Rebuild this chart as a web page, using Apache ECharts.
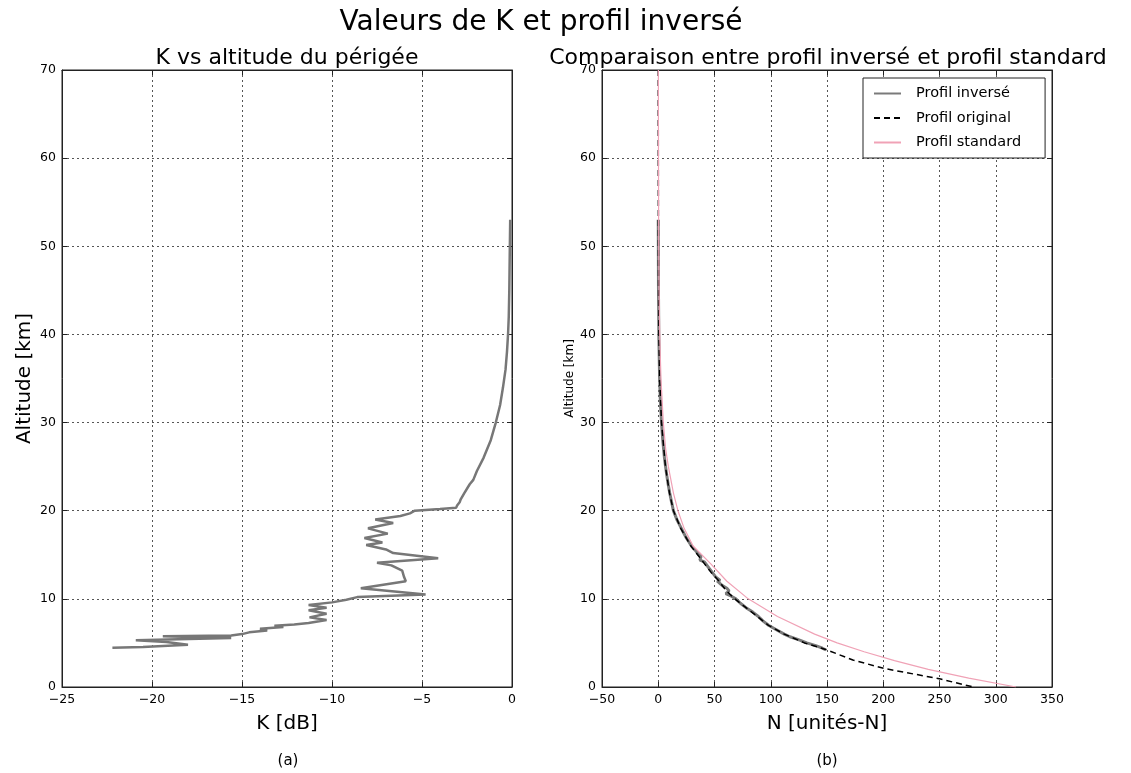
<!DOCTYPE html>
<html>
<head>
<meta charset="utf-8">
<script src="https://cdn.jsdelivr.net/npm/echarts@6/dist/echarts.min.js"></script>
<style>
html,body{margin:0;padding:0;background:#fff;}
#chart{width:1131px;height:773px;}
</style>
</head>
<body>
<div id="chart"></div>
<script>
// ---- Data ----
// Left panel: K [dB] versus perigee altitude [km]
const kAlt = [53.0, 50.0, 45.0, 42.0, 40.0, 38.0, 36.0, 34.0, 32.0, 30.0, 28.0, 26.0, 24.5, 23.5, 23.0, 22.0, 21.3, 21.0, 20.6, 20.35, 20.2, 20.0, 19.7, 19.4, 19.0, 18.6, 18.0, 17.4, 16.9, 16.4, 16.1, 15.6, 15.2, 14.6, 14.1, 13.8, 13.2, 12.5, 12.0, 11.2, 10.5, 10.2, 9.9, 9.6, 9.3, 9.0, 8.7, 8.3, 7.9, 7.6, 7.25, 7.1, 6.95, 6.8, 6.6, 6.4, 6.2, 6.0, 5.85, 5.75, 5.55, 5.3, 5.1, 4.8, 4.55, 4.45];
const kVal = [-0.10, -0.12, -0.15, -0.18, -0.22, -0.28, -0.36, -0.50, -0.66, -0.90, -1.18, -1.58, -1.95, -2.15, -2.35, -2.65, -2.85, -2.90, -3.05, -3.10, -4.0, -5.4, -5.67, -6.2, -7.6, -6.6, -8.0, -6.9, -8.2, -7.2, -8.1, -7.0, -6.6, -4.1, -7.5, -6.7, -6.1, -6.0, -5.9, -8.4, -4.8, -8.6, -9.2, -10.0, -11.3, -10.3, -11.3, -10.3, -11.25, -10.3, -11.3, -12.1, -13.2, -12.7, -14.0, -13.6, -14.6, -15.0, -15.6, -19.4, -15.6, -20.9, -19.2, -18.0, -20.5, -22.2];

// Right panel: N [N-units] versus altitude [km]
const invAlt = [53, 45, 40, 35, 32, 30, 28, 26, 25, 24, 23, 22, 21, 20, 19.5, 19, 18.5, 18, 17.5, 17, 16.5, 16, 15.5, 15, 14.8, 14.6, 14.4, 14.2, 13.5, 13, 12.5, 12.1, 12.0, 11.5, 11.2, 10.9, 10.6, 10.3, 10.0, 9.5, 9.0, 8.5, 8.0, 7.5, 7.0, 6.5, 6.0, 5.7, 5.4, 5.0, 4.7, 4.4, 4.2];
const invN = [0.0, 0.2, 0.5, 1.2, 2.0, 2.9, 4.0, 5.5, 6.5, 7.6, 8.8, 10.2, 11.8, 13.5, 15.0, 16.5, 18.5, 20.5, 22.5, 24.5, 27, 29.5, 33, 36, 38, 39, 37, 41, 45, 48, 51, 55, 52.5, 57, 61, 63, 60, 65, 69, 73, 78, 84, 89, 93, 98, 105, 112, 117, 124, 132, 140, 146, 149];

const origAlt = [70, 60, 50, 45, 40, 35, 30, 25, 22, 20, 18, 16, 15, 14, 13, 12, 11, 10, 9, 8, 7, 6, 5, 4.2, 3.06, 2.1, 0.9, 0];
const origN = [0.0, 0.05, 0.15, 0.3, 0.6, 1.3, 2.9, 6.4, 10, 13.5, 20, 29, 35, 41, 47, 54, 60, 68, 78, 88, 98, 112, 130, 150, 173, 201, 251, 280];

const stdAlt = [70, 60, 50, 45, 40, 35, 30, 27, 25, 22, 20, 18, 16, 14, 12, 10, 8, 6, 5, 4, 3, 2, 1, 0];
const stdN = [0.1, 0.2, 0.4, 0.7, 1.3, 2.4, 4.5, 6.6, 9.0, 13.5, 17.5, 23, 31, 46.5, 61, 80, 106, 139, 159, 183, 210, 240, 276, 318];

// Tick values
const kTicks = [-25, -20, -15, -10, -5, 0];
const nTicks = [-50, 0, 50, 100, 150, 200, 250, 300, 350];
const altTicks = [0, 10, 20, 30, 40, 50, 60, 70];

const seriesNames = ['Profil inversé', 'Profil original', 'Profil standard'];

// ---- Build chart ----
const FONT = 'DejaVu Sans';
const pairs = (xs, ys) => xs.map((x, i) => [x, ys[i]]);
const minusFmt = v => (v < 0 ? '\u2212' + Math.abs(v) : String(v));

const grids = [
  {left: 62, top: 70, width: 450, height: 617},
  {left: 602, top: 70, width: 450, height: 617}
];

const splitStyle = {show: true, lineStyle: {color: '#555', type: [2, 3], width: 1}};
const tickStyle = {show: true, inside: true, length: 5, lineStyle: {color: '#222', width: 1}};
const lineStyleAxis = {show: true, onZero: false, lineStyle: {color: '#222', width: 1}};

function mainX(gi, ticks, name) {
  return {
    gridIndex: gi, type: 'value', position: 'bottom',
    min: ticks[0], max: ticks[ticks.length - 1], interval: ticks[1] - ticks[0],
    name: name, nameLocation: 'middle', nameGap: 27,
    nameTextStyle: {fontSize: 20, color: '#000', fontFamily: FONT},
    axisLine: lineStyleAxis, axisTick: tickStyle, splitLine: splitStyle,
    axisLabel: {fontSize: 12.5, color: '#000', fontFamily: FONT, margin: 6, formatter: minusFmt}
  };
}
function topX(gi, ticks) {
  return {
    gridIndex: gi, type: 'value', position: 'top',
    min: ticks[0], max: ticks[ticks.length - 1], interval: ticks[1] - ticks[0],
    axisLine: lineStyleAxis, axisTick: tickStyle, splitLine: {show: false},
    axisLabel: {show: false}
  };
}
function mainY(gi, name, nameSize, gap) {
  return {
    gridIndex: gi, type: 'value', position: 'left',
    min: altTicks[0], max: altTicks[altTicks.length - 1], interval: altTicks[1] - altTicks[0],
    name: name, nameLocation: 'middle', nameGap: gap, nameRotate: 90,
    nameTextStyle: {fontSize: nameSize, color: '#000', fontFamily: FONT},
    axisLine: lineStyleAxis, axisTick: tickStyle, splitLine: splitStyle,
    axisLabel: {fontSize: 12.5, color: '#000', fontFamily: FONT, margin: 6}
  };
}
function rightY(gi) {
  return {
    gridIndex: gi, type: 'value', position: 'right',
    min: altTicks[0], max: altTicks[altTicks.length - 1], interval: altTicks[1] - altTicks[0],
    axisLine: lineStyleAxis, axisTick: tickStyle, splitLine: {show: false},
    axisLabel: {show: false}
  };
}

const option = {
  animation: false,
  backgroundColor: '#fff',
  textStyle: {fontFamily: FONT},
  grid: grids.map(g => Object.assign({show: true, borderColor: '#222', borderWidth: 1, backgroundColor: 'transparent'}, g)),
  xAxis: [
    mainX(0, kTicks, 'K [dB]'),
    mainX(1, nTicks, 'N [unités-N]'),
    topX(0, kTicks),
    topX(1, nTicks)
  ],
  yAxis: [
    mainY(0, 'Altitude [km]', 20, 27),
    mainY(1, 'Altitude [km]', 12, 26),
    rightY(0),
    rightY(1)
  ],
  legend: {
    data: seriesNames,
    orient: 'vertical',
    left: 863, top: 78,
    itemWidth: 27, itemHeight: 10, itemGap: 9.5,
    padding: [8, 24, 8, 10],
    borderColor: '#222', borderWidth: 1, borderRadius: 0,
    backgroundColor: '#fff',
    itemStyle: {opacity: 0},
    textStyle: {fontSize: 14.5, color: '#000', fontFamily: FONT, padding: [0, 0, 0, 10]}
  },
  graphic: [
    {type: 'text', x: 541, y: 23, style: {text: 'Valeurs de K et profil inversé', font: '28px "DejaVu Sans"', fill: '#000', textAlign: 'center', textVerticalAlign: 'middle'}},
    {type: 'text', x: 287, y: 58, style: {text: 'K vs altitude du périgée', font: '22px "DejaVu Sans"', fill: '#000', textAlign: 'center', textVerticalAlign: 'middle'}},
    {type: 'text', x: 828, y: 58, style: {text: 'Comparaison entre profil inversé et profil standard', font: '22px "DejaVu Sans"', fill: '#000', textAlign: 'center', textVerticalAlign: 'middle'}},
    {type: 'text', x: 288, y: 761, style: {text: '(a)', font: '15px "DejaVu Sans"', fill: '#000', textAlign: 'center', textVerticalAlign: 'middle'}},
    {type: 'text', x: 827, y: 761, style: {text: '(b)', font: '15px "DejaVu Sans"', fill: '#000', textAlign: 'center', textVerticalAlign: 'middle'}}
  ],
  series: [
    {
      name: 'K', type: 'line', xAxisIndex: 0, yAxisIndex: 0,
      data: pairs(kVal, kAlt), symbol: 'none', showSymbol: false,
      lineStyle: {color: '#777777', width: 2.5}, itemStyle: {color: '#777777'}
    },
    {
      name: seriesNames[0], type: 'line', xAxisIndex: 1, yAxisIndex: 1,
      data: pairs(invN, invAlt), symbol: 'none', showSymbol: false,
      lineStyle: {color: '#7a7a7a', width: 3}, itemStyle: {color: '#7a7a7a'}
    },
    {
      name: seriesNames[1], type: 'line', xAxisIndex: 1, yAxisIndex: 1,
      data: pairs(origN, origAlt), symbol: 'none', showSymbol: false,
      lineStyle: {color: '#000', width: 1.5, type: [6, 4]}, itemStyle: {color: '#000'}
    },
    {
      name: seriesNames[2], type: 'line', xAxisIndex: 1, yAxisIndex: 1,
      data: pairs(stdN, stdAlt), symbol: 'none', showSymbol: false,
      lineStyle: {color: '#f0a2b6', width: 1.2}, itemStyle: {color: '#f0a2b6'}
    }
  ]
};

const chart = echarts.init(document.getElementById('chart'), null, {renderer: 'canvas'});
chart.setOption(option);
</script>
</body>
</html>
